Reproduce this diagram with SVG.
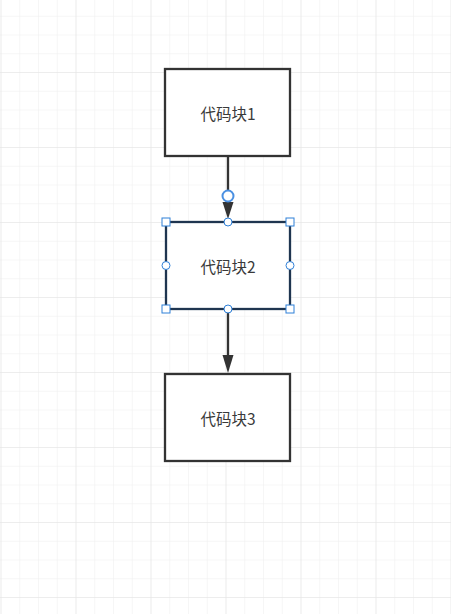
<svg xmlns="http://www.w3.org/2000/svg" width="451" height="614" viewBox="0 0 451 614">
<defs>
<pattern id="minor" patternUnits="userSpaceOnUse" x="0.5" y="-3" width="18.75" height="18.75">
<path d="M0 0H18.75M0 0V18.75" fill="none" stroke="#eeeeee" stroke-width="1"/>
</pattern>
<pattern id="major" patternUnits="userSpaceOnUse" x="0.5" y="-3" width="75" height="75">
<path d="M0 0H75M0 0V75" fill="none" stroke="#e3e3e3" stroke-width="1"/>
</pattern>
<style>
.box{fill:#ffffff;stroke:#333333;stroke-width:2.3}
.sel{fill:#ffffff;stroke:#1f3550;stroke-width:2.3}
.lbl{font-family:"Microsoft YaHei","Noto Sans CJK SC","Noto Sans",sans-serif;font-size:15.5px;fill:#3a3a3a;text-anchor:middle;dominant-baseline:central}
.edge{fill:none;stroke:#333333;stroke-width:2.3}
.head{fill:#333333}
.hs{fill:#ffffff;stroke:#2f80d8;stroke-width:1}
.hc{fill:#ffffff;stroke:#2f80d8;stroke-width:1}
</style>
</defs>
<rect width="451" height="614" fill="#ffffff"/>
<rect width="451" height="614" fill="url(#minor)"/>
<rect width="451" height="614" fill="url(#major)"/>
<g id="connectors">
<line class="edge" x1="228" y1="157" x2="228" y2="205"/>
<path class="head" d="M222.5 202 L228 219 L233.5 202 Z"/>
<line class="edge" x1="228" y1="309" x2="228" y2="358"/>
<path class="head" d="M222.5 355 L228 373 L233.5 355 Z"/>
<circle cx="228" cy="196" r="5.5" fill="#ffffff" stroke="#4a90e2" stroke-width="2"/>
</g>
<g id="node1">
<rect class="box" x="165" y="69" width="125" height="87"/>
<text class="lbl" x="228" y="113">代码块1</text>
</g>
<g id="node2">
<rect class="sel" x="166" y="222" width="124" height="87"/>
<text class="lbl" x="228" y="266">代码块2</text>
<rect class="hs" x="162" y="218" width="8" height="8"/>
<rect class="hs" x="286" y="218" width="8" height="8"/>
<rect class="hs" x="162" y="305" width="8" height="8"/>
<rect class="hs" x="286" y="305" width="8" height="8"/>
<circle class="hc" cx="228" cy="222" r="4"/>
<circle class="hc" cx="228" cy="309" r="4"/>
<circle class="hc" cx="166" cy="265.5" r="4"/>
<circle class="hc" cx="290" cy="265.5" r="4"/>
</g>
<g id="node3">
<rect class="box" x="165" y="374" width="125" height="87"/>
<text class="lbl" x="228" y="418">代码块3</text>
</g>
</svg>
